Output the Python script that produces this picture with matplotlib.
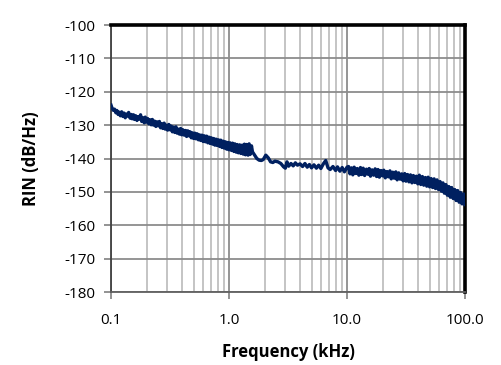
import numpy as np
import matplotlib
matplotlib.use("Agg")
import matplotlib.pyplot as plt
from matplotlib.ticker import FixedLocator, NullFormatter, FixedFormatter

# Spectre RIN (fréquence en kHz, RIN en dB/Hz)
freq_low = [0.100, 0.102, 0.105, 0.107, 0.110, 0.112, 0.115, 0.117, 0.120, 0.123,
            0.126, 0.129, 0.132, 0.135, 0.138, 0.141, 0.145, 0.148, 0.151, 0.155,
            0.158, 0.162, 0.166, 0.170, 0.174, 0.178, 0.182, 0.186, 0.191, 0.195,
            0.200, 0.204, 0.209, 0.214, 0.219, 0.224, 0.229, 0.234, 0.240, 0.245,
            0.251, 0.257, 0.263, 0.269, 0.275, 0.282, 0.288, 0.295, 0.302, 0.309,
            0.316, 0.324, 0.331, 0.339, 0.347, 0.355, 0.363, 0.372, 0.380, 0.389,
            0.398, 0.407, 0.417, 0.427, 0.437, 0.447, 0.457, 0.468, 0.479, 0.490,
            0.501, 0.513, 0.525, 0.537, 0.550, 0.562, 0.575, 0.589, 0.603, 0.617,
            0.631, 0.646, 0.661, 0.676, 0.692, 0.708, 0.724, 0.741, 0.759, 0.776,
            0.794, 0.813, 0.832, 0.851, 0.871, 0.891, 0.912, 0.933, 0.955, 0.977,
            1.00, 1.02, 1.05, 1.07, 1.10, 1.12, 1.15, 1.17, 1.20, 1.23,
            1.26, 1.29, 1.32, 1.35, 1.38, 1.41, 1.45, 1.48, 1.51, 1.55,
            1.58]
rin_low = [-124.0, -124.9, -125.6, -125.2, -126.3, -125.6, -126.8, -126.1, -127.2, -126.0,
           -127.4, -126.4, -127.8, -126.7, -127.3, -126.2, -127.9, -126.8, -128.1, -126.9,
           -128.3, -127.2, -128.6, -127.5, -128.2, -126.9, -128.9, -127.8, -129.3, -127.6,
           -129.1, -128.0, -129.6, -128.4, -129.9, -128.3, -130.0, -128.8, -130.4, -129.0,
           -130.2, -128.9, -130.8, -129.6, -131.0, -129.4, -131.2, -130.0, -131.5, -129.8,
           -131.4, -130.3, -132.0, -130.6, -132.2, -130.5, -132.4, -131.2, -132.7, -131.0,
           -132.9, -131.4, -133.0, -131.6, -133.4, -131.7, -133.2, -132.0, -133.8, -132.3,
           -134.0, -132.4, -134.1, -132.6, -134.4, -132.9, -134.6, -133.0, -134.9, -133.2,
           -135.0, -133.3, -135.3, -133.6, -135.5, -133.8, -135.7, -134.0, -136.0, -134.2,
           -136.1, -134.4, -136.4, -134.5, -136.7, -134.8, -136.9, -135.0, -137.2, -135.2,
           -137.4, -135.3, -137.6, -135.4, -137.9, -135.6, -138.1, -135.8, -138.3, -135.9,
           -138.5, -136.0, -138.7, -135.7, -138.9, -135.8, -139.0, -135.6, -138.8, -136.2,
           -138.0]

freq_mid = [1.65, 1.72, 1.80, 1.88, 1.95, 2.05, 2.15, 2.25, 2.35, 2.45,
            2.6, 2.75, 2.9, 3.0, 3.1, 3.2, 3.35, 3.5, 3.65, 3.8,
            4.0, 4.2, 4.4, 4.6, 4.8, 5.0, 5.25, 5.5, 5.75, 6.0,
            6.3, 6.6, 6.9, 7.2, 7.6, 8.0, 8.3, 8.7, 9.1, 9.5, 10.0]
rin_mid = [-139.0, -140.0, -140.5, -140.6, -140.3, -139.0, -139.8, -141.0, -141.2, -140.8,
           -141.0, -141.5, -142.5, -142.9, -141.0, -142.3, -141.5, -142.2, -141.3, -142.0,
           -141.6, -142.4, -141.5, -142.6, -141.8, -142.8, -141.9, -142.9, -142.0, -143.0,
           -141.6, -140.6, -142.8, -143.3, -142.4, -143.6, -142.5, -143.8, -142.7, -144.0,
           -142.6]

freq_high = [10.3, 10.6, 10.9, 11.2, 11.5, 11.9, 12.2, 12.6, 13.0, 13.3,
             13.7, 14.1, 14.6, 15.0, 15.4, 15.8, 16.3, 16.8, 17.3, 17.8,
             18.3, 18.8, 19.4, 20.0, 20.5, 21.1, 21.8, 22.4, 23.1, 23.7,
             24.4, 25.1, 25.9, 26.6, 27.4, 28.2, 29.1, 29.9, 30.8, 31.6,
             32.6, 33.5, 34.5, 35.5, 36.5, 37.6, 38.7, 39.8, 41.0, 42.2,
             43.5, 44.7, 46.1, 47.4, 48.7, 50.1, 51.6, 53.1, 54.7, 56.2,
             57.9, 59.6, 61.4, 63.1, 65.0, 66.8, 68.8, 70.8, 72.9, 75.0,
             77.1, 79.4, 81.8, 84.1, 86.6, 89.1, 91.7, 94.4, 97.2, 100.0]
rin_high = [-142.4, -144.6, -142.8, -144.9, -142.6, -144.5, -143.0, -145.0, -142.7, -144.8,
            -142.9, -145.1, -143.2, -144.7, -143.0, -145.3, -143.4, -145.0, -143.1, -145.4,
            -143.3, -145.6, -143.6, -145.2, -143.5, -145.8, -143.9, -145.5, -143.7, -146.1,
            -144.1, -145.9, -144.0, -146.4, -144.3, -146.2, -144.6, -146.7, -144.5, -146.8,
            -144.8, -147.0, -144.9, -147.3, -145.1, -147.2, -145.3, -147.6, -145.0, -147.8,
            -145.4, -148.0, -145.7, -148.3, -145.6, -148.5, -146.0, -148.7, -146.1, -149.0,
            -146.4, -149.3, -146.9, -149.8, -147.3, -150.4, -147.8, -151.0, -148.4, -151.6,
            -148.7, -152.0, -149.3, -152.6, -149.6, -153.1, -150.2, -153.6, -150.6, -153.8]

x_ticks = [0.1, 1.0, 10.0, 100.0]
x_tick_labels = ["0.1", "1.0", "10.0", "100.0"]
y_ticks = [-180, -170, -160, -150, -140, -130, -120, -110, -100]

freq = freq_low + freq_mid + freq_high
rin = rin_low + rin_mid + rin_high

plt.rcParams['font.family'] = ['Open Sans', 'DejaVu Sans']

fig = plt.figure(figsize=(5.01, 3.65), dpi=100)
ax = fig.add_axes([0.2216, 0.2, 0.7066, 0.7315])

ax.plot(freq, rin, color='#002060', linewidth=2.4, zorder=3)

ax.set_xscale('log')
ax.set_xlim(0.1, 100)
ax.set_ylim(-180, -100)

ax.xaxis.set_major_locator(FixedLocator(x_ticks))
ax.xaxis.set_major_formatter(FixedFormatter(x_tick_labels))
minors = [m * d for d in (0.1, 1, 10) for m in range(2, 10)]
ax.xaxis.set_minor_locator(FixedLocator(minors))
ax.xaxis.set_minor_formatter(NullFormatter())
ax.set_yticks(y_ticks)
ax.set_yticklabels([str(v) for v in y_ticks])

# Grille façon Excel
ax.grid(which='major', axis='both', color='#8c8c8c', linewidth=1.3, zorder=1)
ax.grid(which='minor', axis='x', color='#bfbfbf', linewidth=1.3, zorder=1)
ax.set_axisbelow(True)

# Cadre : haut et droite noirs épais, gauche et bas fins
ax.spines['top'].set_color('black')
ax.spines['top'].set_linewidth(2.6)
ax.spines['right'].set_color('black')
ax.spines['right'].set_linewidth(2.6)
ax.spines['left'].set_color('#404040')
ax.spines['left'].set_linewidth(1.3)
ax.spines['bottom'].set_color('#606060')
ax.spines['bottom'].set_linewidth(1.3)

ax.tick_params(which='major', direction='out', length=5, width=1.2, color='#808080',
               labelsize=11, labelcolor='black')
ax.tick_params(axis='x', which='major', pad=10)
ax.tick_params(axis='y', which='major', pad=6)
ax.tick_params(which='minor', length=0)

ax.set_xlabel("Frequency (kHz)", fontsize=12, fontweight='bold', labelpad=11)
ax.set_ylabel("RIN (dB/Hz)", fontsize=12, fontweight='bold', labelpad=18)

fig.savefig("out.png", dpi=100, facecolor='white')
